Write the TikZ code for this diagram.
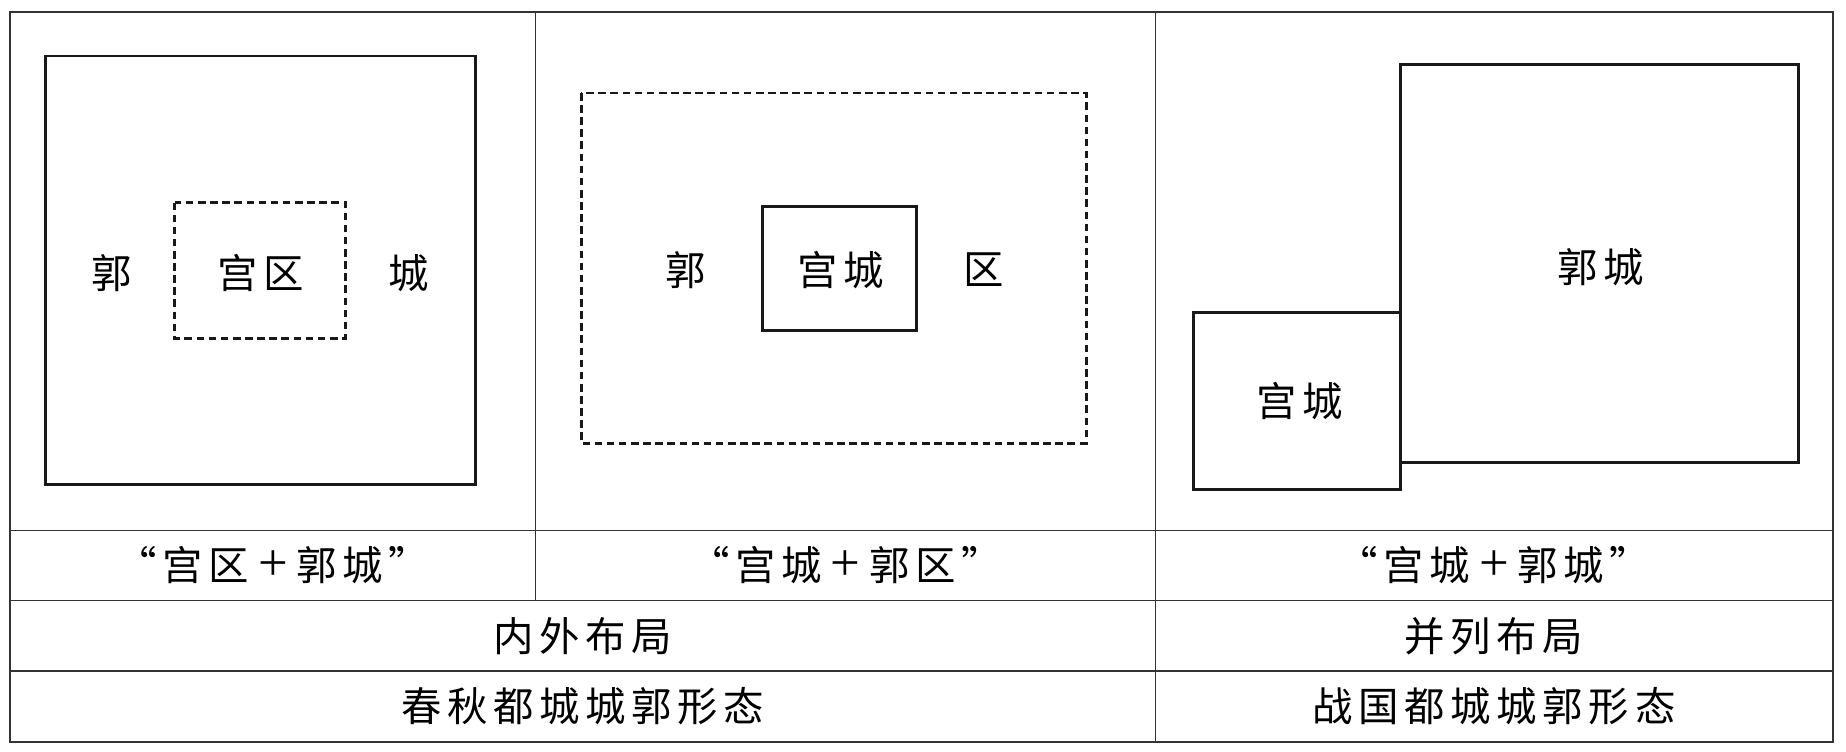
\documentclass[tikz,border=0pt]{standalone}
\usepackage{fontspec}
\newfontfamily\cjk[LetterSpace=14]{Noto Sans CJK SC}
\setmainfont{Liberation Serif}
\newcommand\plussign{{\rmfamily\fontsize{30}{30}\selectfont\,+\,}}

\begin{document}
\begin{tikzpicture}[x=0.02cm,y=-0.02cm,
  grid/.style={draw=black!80,line width=0.9pt},
  wall/.style={draw=black!90,line width=1.7pt},
  dashwall/.style={draw=black!90,line width=1.7pt,dash pattern=on 4.3pt off 2.6pt},
  lbl/.style={font=\fontsize{23}{26}\selectfont\cjk,inner sep=0pt}]
  \useasboundingbox (0,0) rectangle (1846,751);

  % table
  \draw[grid] (10,12) rectangle (1833,742);
  \draw[grid] (10,530.5) -- (1833,530.5);
  \draw[grid] (10,600.5) -- (1833,600.5);
  \draw[grid] (10,671) -- (1833,671);
  \draw[grid] (535.5,12) -- (535.5,600.5);
  \draw[grid] (1155.5,12) -- (1155.5,742);

  % gongqu + guocheng
  \draw[wall] (45.5,56) rectangle (475.5,484.5);
  \draw[dashwall] (174.5,202.5) rectangle (345.5,338);
  \node[lbl] (guoA) at (112,273) {郭};
  \node[lbl] (gongqu) at (261,273) {宫区};
  \node[lbl] (chengA) at (409,273) {城};

  % gongcheng + guoqu
  \draw[dashwall] (581,93) rectangle (1086,443);
  \draw[wall] (762.5,206.5) rectangle (916,330);
  \node[lbl] (guoB) at (686,270) {郭};
  \node[lbl] (gongchengB) at (841,270) {宫城};
  \node[lbl] (quB) at (984,270) {区};

  % gongcheng + guocheng
  \draw[wall] (1400,64.5) rectangle (1798,462);
  \draw[wall] (1193.5,312) rectangle (1400,489);
  \node[lbl] (guocheng) at (1601,267) {郭城};
  \node[lbl] (gongchengC) at (1300,401) {宫城};

  % captions
  \node[lbl] (capA) at (273,565.5) {“宫区\plussign 郭城”};
  \node[lbl] (capB) at (845.5,565.5) {“宫城\plussign 郭区”};
  \node[lbl] (capC) at (1494,565.5) {“宫城\plussign 郭城”};
  \node[lbl] (neiwai) at (582.75,636) {内外布局};
  \node[lbl] (binglie) at (1494,636) {并列布局};
  \node[lbl] (chunqiu) at (582.75,706.5) {春秋都城城郭形态};
  \node[lbl] (zhanguo) at (1494,706.5) {战国都城城郭形态};
\end{tikzpicture}
\end{document}
